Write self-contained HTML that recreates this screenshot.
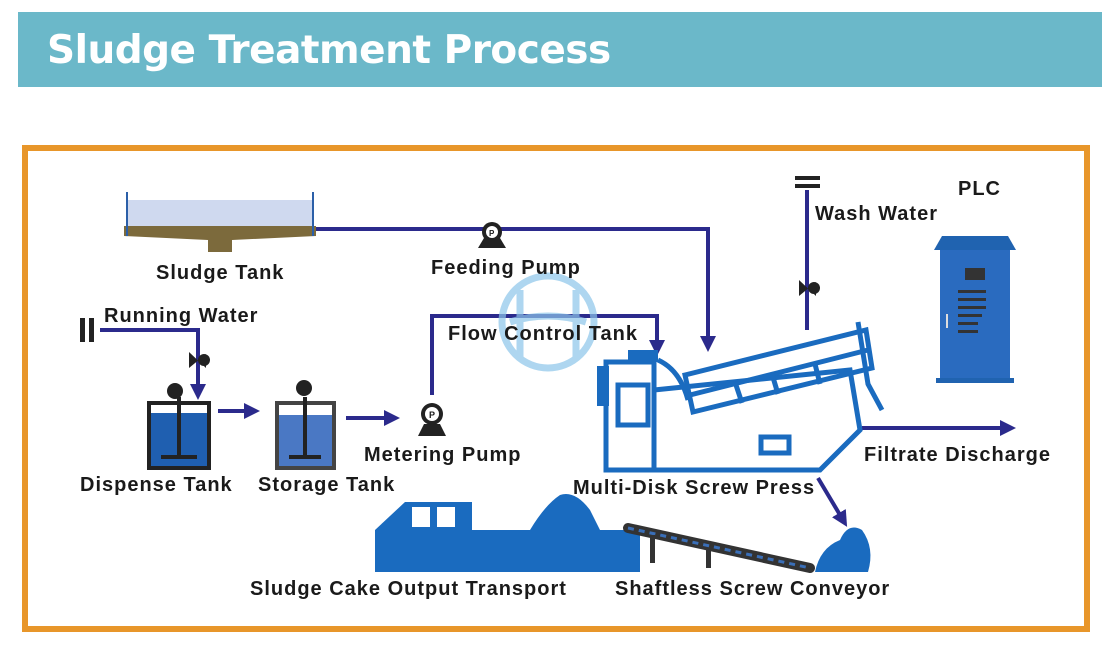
<!DOCTYPE html>
<html><head><meta charset="utf-8"><style>
html,body{margin:0;padding:0;background:#fff;width:1114px;height:645px;overflow:hidden}
svg{display:block}
text{font-family:"Liberation Sans",Arial,sans-serif;font-weight:bold;fill:#1a1a1a}
</style></head><body>
<svg width="1114" height="645" viewBox="0 0 1114 645" xmlns="http://www.w3.org/2000/svg">
<defs>
<marker id="ah" markerWidth="4" markerHeight="4" refX="2" refY="2" orient="auto" markerUnits="strokeWidth"><path d="M0,0 L4,2 L0,4 Z" fill="#2b2a8c"/></marker>
</defs>
<rect x="18" y="12" width="1084" height="75" fill="#6bb8c9"/>
<text x="47" y="63" font-size="39" style="fill:#fff;font-family:'DejaVu Sans','Liberation Sans',sans-serif" letter-spacing="-0.5">Sludge Treatment Process</text>
<rect x="25" y="148" width="1062" height="481" fill="none" stroke="#e8962a" stroke-width="6"/>

<g fill="none" stroke="#2b2a8c" stroke-width="4">
<polyline points="316,229 708,229 708,344" marker-end="url(#ah)"/>
<polyline points="100,330 198,330 198,392" marker-end="url(#ah)"/>
<polyline points="432,395 432,316 657,316 657,348" marker-end="url(#ah)"/>
<line x1="218" y1="411" x2="252" y2="411" marker-end="url(#ah)"/>
<line x1="346" y1="418" x2="392" y2="418" marker-end="url(#ah)"/>
<line x1="807" y1="190" x2="807" y2="330"/>
<line x1="862" y1="428" x2="1008" y2="428" marker-end="url(#ah)"/>
<line x1="818" y1="478" x2="843" y2="520" marker-end="url(#ah)"/>
</g>

<rect x="128" y="200" width="184" height="26" fill="#cfd9ef"/>
<path d="M124,226 H316 V236 L232,240 V252 H208 V240 L124,236 Z" fill="#7c6a3c"/>
<line x1="127" y1="192" x2="127" y2="236" stroke="#2b5fa8" stroke-width="2"/>
<line x1="313" y1="192" x2="313" y2="236" stroke="#2b5fa8" stroke-width="2"/>
<g fill="#222">
<path d="M478,248 L484,238 H500 L506,248 Z"/><circle cx="492" cy="232" r="10"/>
<circle cx="492" cy="232" r="6" fill="#fff"/>
<path d="M418,436 L424,424 H440 L446,436 Z"/><circle cx="432" cy="414" r="11"/>
<circle cx="432" cy="414" r="7" fill="#fff"/>
</g>
<text x="489" y="236" font-size="8">P</text><text x="429" y="418" font-size="9">P</text>
<g fill="#222"><path d="M189,352 L206,368 L206,354 L189,368 Z"/><circle cx="204" cy="360" r="6"/>
<path d="M799,280 L816,296 L816,282 L799,296 Z"/><circle cx="814" cy="288" r="6"/></g>
<rect x="795" y="176" width="25" height="4" fill="#222"/><rect x="795" y="184" width="25" height="4" fill="#222"/>
<rect x="80" y="318" width="5" height="24" fill="#222"/><rect x="89" y="318" width="5" height="24" fill="#222"/>
<rect x="149" y="403" width="60" height="65" fill="#1f5fb0" stroke="#222" stroke-width="4"/>
<rect x="151" y="405" width="56" height="8" fill="#fff"/>
<line x1="179" y1="397" x2="179" y2="458" stroke="#222" stroke-width="4"/>
<rect x="161" y="455" width="36" height="4" fill="#222"/>
<circle cx="175" cy="391" r="8" fill="#222"/>
<rect x="277" y="403" width="57" height="65" fill="#4a78c4" stroke="#444" stroke-width="4"/>
<rect x="279" y="405" width="53" height="10" fill="#fff"/>
<line x1="305" y1="397" x2="305" y2="458" stroke="#222" stroke-width="4"/>
<rect x="289" y="455" width="32" height="4" fill="#222"/>
<circle cx="304" cy="388" r="8" fill="#222"/>
<g fill="none" stroke="#1a6bbf" stroke-width="5">
<rect x="606" y="362" width="48" height="108"/>
<rect x="618" y="385" width="30" height="40"/>
<path d="M654,390 L850,370 L860,430 L820,470 L654,470"/>
<path d="M685,375 L866,330 L872,368 L693,412 Z"/>
<path d="M690,395 L868,350"/>
<path d="M735,382 L742,403 M772,374 L778,394 M815,364 L820,384"/>
<path d="M658,360 Q680,370 688,400"/>
<rect x="761" y="437" width="28" height="16"/>
<path d="M858,322 L868,384 L882,410"/>
</g>
<rect x="597" y="366" width="12" height="40" fill="#1a6bbf"/>
<rect x="628" y="350" width="30" height="12" fill="#1a6bbf"/>
<path d="M934,250 L942,236 H1008 L1016,250 Z" fill="#2063b0"/>
<rect x="940" y="250" width="70" height="128" fill="#2a6bbf"/>
<rect x="936" y="378" width="78" height="5" fill="#2063b0"/>
<rect x="965" y="268" width="20" height="12" fill="#333"/>
<g fill="#333"><rect x="958" y="290" width="28" height="3"/><rect x="958" y="298" width="28" height="3"/><rect x="958" y="306" width="28" height="3"/><rect x="958" y="314" width="24" height="3"/><rect x="958" y="322" width="20" height="3"/><rect x="958" y="330" width="20" height="3"/></g>
<rect x="946" y="314" width="2" height="14" fill="#ddd"/>
<path d="M375,570 V530 L405,502 H472 V530 H530 Q545,505 560,495 Q575,490 590,510 L600,530 H640 V572 H375 Z" fill="#1a6bbf"/>
<rect x="412" y="507" width="18" height="20" fill="#fff"/><rect x="437" y="507" width="18" height="20" fill="#fff"/>
<line x1="628" y1="528" x2="810" y2="568" stroke="#333" stroke-width="10" stroke-linecap="round"/>
<line x1="628" y1="528" x2="810" y2="568" stroke="#3a6fb8" stroke-width="3" stroke-dasharray="6 5"/>
<rect x="650" y="535" width="5" height="28" fill="#333"/><rect x="706" y="548" width="5" height="20" fill="#333"/>
<path d="M815,572 Q820,548 840,540 Q848,522 862,530 Q875,548 868,572 Z" fill="#1a6bbf"/>
<g fill="none" stroke="#8cc6ea" stroke-width="7" opacity="0.7">
<circle cx="548" cy="322" r="46"/><path d="M520,290 L520,360 M576,290 L576,360 M510,322 Q548,310 586,322"/></g>
<g font-size="20" letter-spacing="1">
<text x="156" y="279">Sludge Tank</text>
<text x="431" y="274">Feeding Pump</text>
<text x="104" y="322">Running Water</text>
<text x="448" y="340">Flow Control Tank</text>
<text x="815" y="220">Wash Water</text>
<text x="958" y="195">PLC</text>
<text x="364" y="461">Metering Pump</text>
<text x="80" y="491">Dispense Tank</text>
<text x="258" y="491">Storage Tank</text>
<text x="864" y="461">Filtrate Discharge</text>
<text x="573" y="494">Multi-Disk Screw Press</text>
<text x="250" y="595">Sludge Cake Output Transport</text>
<text x="615" y="595">Shaftless Screw Conveyor</text>
</g>
</svg>
</body></html>
